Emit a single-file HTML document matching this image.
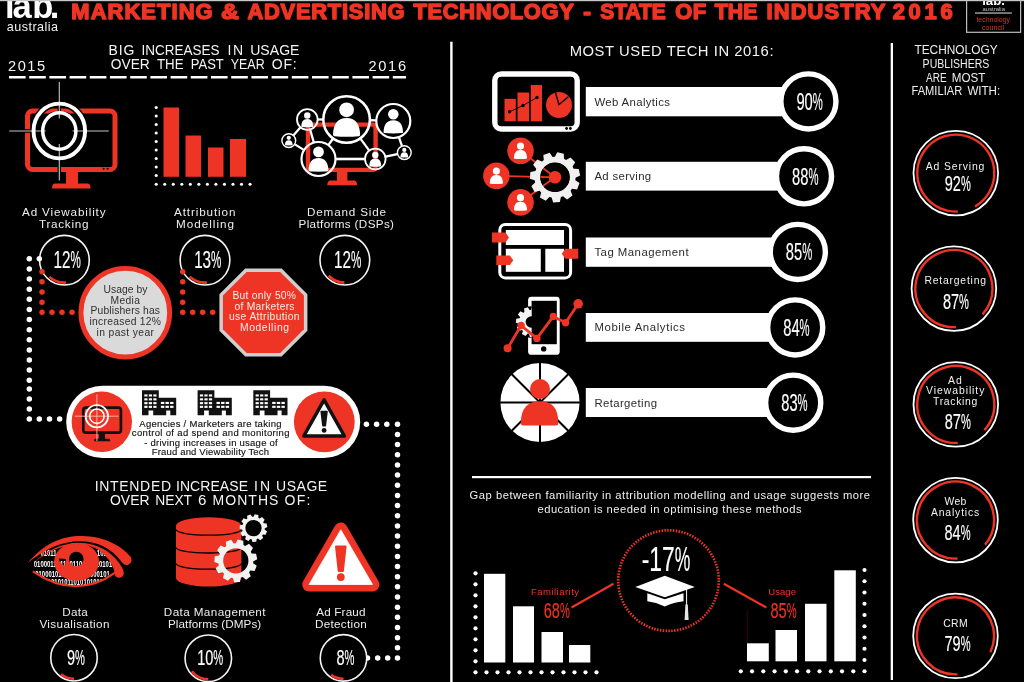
<!DOCTYPE html>
<html lang="en">
<head>
<meta charset="utf-8">
<title>Marketing &amp; Advertising Technology - State of the Industry 2016</title>
<style>
html,body{margin:0;padding:0;background:#000;}
body{width:1024px;height:682px;overflow:hidden;}
svg{display:block;font-family:"Liberation Sans", sans-serif;}
text{white-space:pre;}
</style>
</head>
<body>
<svg width="1024" height="682" viewBox="0 0 1024 682">
<rect width="1024" height="682" fill="#000"/>
<!-- header -->
<text x="4.9 12.6 32.2 49.8" y="18.1" font-size="34.5" font-weight="700" fill="#fff">iab.</text>
<text x="6.80" y="31.00" font-size="12.6" fill="#f2f2f2" textLength="51.20" lengthAdjust="spacing">australia</text>
<text y="19.45" font-size="21.9" fill="#ee3424" font-weight="700" stroke="#ee3424" stroke-width="1.5" stroke-linejoin="round" ><tspan x="71.30" textLength="141.30" lengthAdjust="spacing">MARKETING</tspan> <tspan x="221.00" textLength="17.80" lengthAdjust="spacingAndGlyphs">&amp;</tspan> <tspan x="247.40" textLength="157.20" lengthAdjust="spacing">ADVERTISING</tspan> <tspan x="413.60" textLength="159.80" lengthAdjust="spacing">TECHNOLOGY</tspan> <tspan x="583.30" textLength="7.70" lengthAdjust="spacingAndGlyphs">-</tspan> <tspan x="600.20" textLength="65.60" lengthAdjust="spacingAndGlyphs">STATE</tspan> <tspan x="675.20" textLength="31.00" lengthAdjust="spacing">OF</tspan> <tspan x="714.80" textLength="42.60" lengthAdjust="spacingAndGlyphs">THE</tspan> <tspan x="766.50" textLength="118.50" lengthAdjust="spacing">INDUSTRY</tspan> <tspan x="892.70" textLength="59.90" lengthAdjust="spacing">2016</tspan></text>
<rect x="966.6" y="-2" width="54" height="34.3" fill="#000" stroke="#bdbdbd" stroke-width="1.2"/>
<g transform="translate(982.2,4.9) scale(0.5)"><text x="0" y="0" font-size="25" font-weight="700" fill="#fff" textLength="45.6" lengthAdjust="spacingAndGlyphs">iab.</text></g>
<g transform="translate(982.6,10.7) scale(0.5)"><text x="0" y="0" font-size="11.6" fill="#c4c4c4" textLength="44.6" lengthAdjust="spacing">australia</text></g>
<rect x="975.00" y="12.30" width="36.80" height="1.50" fill="#9a9a9a" />
<g transform="translate(976.4,22.2) scale(0.5)"><text x="0" y="0" font-size="15.4" fill="#d2342a" textLength="67.4" lengthAdjust="spacingAndGlyphs">technology</text></g>
<g transform="translate(982,30.3) scale(0.5)"><text x="0" y="0" font-size="15.4" fill="#d2342a" textLength="44.4" lengthAdjust="spacingAndGlyphs">council</text></g>
<rect x="0.00" y="0.00" width="1024.00" height="1.20" fill="#c8c8c8" />
<rect x="450.20" y="41.70" width="2.40" height="640.30" fill="#fff" />
<rect x="890.70" y="43.00" width="2.30" height="637.00" fill="#fff" />
<rect x="472.00" y="476.00" width="399.00" height="2.20" fill="#fff" />
<!-- left top -->
<text y="54.70" font-size="14.0" fill="#f4f4f4" ><tspan x="108.60" textLength="25.80" lengthAdjust="spacing">BIG</tspan> <tspan x="141.40" textLength="78.00" lengthAdjust="spacingAndGlyphs">INCREASES</tspan> <tspan x="227.60" textLength="15.40" lengthAdjust="spacing">IN</tspan> <tspan x="250.20" textLength="49.20" lengthAdjust="spacing">USAGE</tspan></text>
<text y="69.00" font-size="14.0" fill="#f4f4f4" ><tspan x="110.80" textLength="39.00" lengthAdjust="spacingAndGlyphs">OVER</tspan> <tspan x="157.00" textLength="26.60" lengthAdjust="spacingAndGlyphs">THE</tspan> <tspan x="190.80" textLength="32.80" lengthAdjust="spacingAndGlyphs">PAST</tspan> <tspan x="230.80" textLength="33.80" lengthAdjust="spacingAndGlyphs">YEAR</tspan> <tspan x="271.80" textLength="24.80" lengthAdjust="spacing">OF:</tspan></text>
<text x="8.00" y="71.00" font-size="14.6" fill="#f4f4f4" textLength="37.00" lengthAdjust="spacing">2015</text>
<text x="368.50" y="71.00" font-size="14.6" fill="#f4f4f4" textLength="37.50" lengthAdjust="spacing">2016</text>
<line x1="9" y1="77.3" x2="406" y2="77.3" stroke="#fff" stroke-width="2.6" stroke-dasharray="16.6 3.6"/>
<rect x="27.5" y="111" width="87.5" height="58.5" rx="5" ry="5" fill="none" stroke="#ee3424" stroke-width="5"/>
<path d="M66,172 L78,172 L78,183.5 L88,183.5 Q90.5,184 90.5,188.5 L52,188.5 Q52,184 54.5,183.5 L66,183.5Z" fill="#ee3424"/>
<circle cx="103.60" cy="168.80" r="1.00" fill="#000" />
<circle cx="107.60" cy="168.80" r="1.00" fill="#000" />
<line x1="9.00" y1="131.00" x2="109.00" y2="131.00" stroke="#000" stroke-width="3.4" />
<line x1="59.30" y1="82.00" x2="59.30" y2="181.00" stroke="#000" stroke-width="3.4" />
<ellipse cx="59.3" cy="131.0" rx="25.8" ry="27.4" fill="none" stroke="#000" stroke-width="6.6"/>
<ellipse cx="59.3" cy="131.0" rx="16.6" ry="18.2" fill="#000" stroke="#000" stroke-width="5.4"/>
<path d="M47,112.6 Q59.3,107.2 71.6,112.6" fill="none" stroke="#ee3424" stroke-width="2.2"/>
<line x1="59.30" y1="108.00" x2="59.30" y2="115.00" stroke="#000" stroke-width="3.2" />
<line x1="9.20" y1="131.00" x2="45.60" y2="131.00" stroke="#c4c4c4" stroke-width="1.1" />
<line x1="72.60" y1="131.00" x2="108.80" y2="131.00" stroke="#c4c4c4" stroke-width="1.1" />
<line x1="59.30" y1="82.00" x2="59.30" y2="118.60" stroke="#c4c4c4" stroke-width="1.1" />
<line x1="59.30" y1="144.00" x2="59.30" y2="180.60" stroke="#c4c4c4" stroke-width="1.1" />
<ellipse cx="59.3" cy="131.0" rx="25.8" ry="27.4" fill="none" stroke="#fff" stroke-width="3.9"/>
<ellipse cx="59.3" cy="131.0" rx="16.6" ry="18.2" fill="none" stroke="#fff" stroke-width="3.5"/>
<rect x="163.50" y="107.50" width="15.50" height="69.30" fill="#ee3424" />
<rect x="185.50" y="135.50" width="15.50" height="41.30" fill="#ee3424" />
<rect x="208.00" y="147.50" width="15.50" height="29.30" fill="#ee3424" />
<rect x="230.00" y="139.00" width="16.00" height="37.80" fill="#ee3424" />
<g fill="#fff"><circle cx="156.20" cy="107.50" r="1.55"/><circle cx="156.20" cy="116.00" r="1.55"/><circle cx="156.20" cy="124.50" r="1.55"/><circle cx="156.20" cy="133.00" r="1.55"/><circle cx="156.20" cy="141.50" r="1.55"/><circle cx="156.20" cy="150.00" r="1.55"/><circle cx="156.20" cy="158.50" r="1.55"/><circle cx="156.20" cy="167.00" r="1.55"/><circle cx="156.20" cy="175.50" r="1.55"/></g>
<g fill="#fff"><circle cx="156.20" cy="184.20" r="1.55"/><circle cx="164.73" cy="184.20" r="1.55"/><circle cx="173.26" cy="184.20" r="1.55"/><circle cx="181.79" cy="184.20" r="1.55"/><circle cx="190.32" cy="184.20" r="1.55"/><circle cx="198.85" cy="184.20" r="1.55"/><circle cx="207.38" cy="184.20" r="1.55"/><circle cx="215.91" cy="184.20" r="1.55"/><circle cx="224.44" cy="184.20" r="1.55"/><circle cx="232.97" cy="184.20" r="1.55"/><circle cx="241.50" cy="184.20" r="1.55"/><circle cx="250.03" cy="184.20" r="1.55"/></g>
<rect x="308" y="124.6" width="67.6" height="45.3" rx="2.5" fill="none" stroke="#ee3424" stroke-width="4.4"/>
<path d="M337,172 L347.4,172 L347.4,180.6 L354.6,180.6 Q357,181.4 357.2,185.2 L327.2,185.2 Q327.4,181.4 329.8,180.6 L337,180.6Z" fill="#ee3424"/>
<line x1="317.90" y1="119.50" x2="323.00" y2="119.50" stroke="#fff" stroke-width="2.3" />
<line x1="293.55" y1="135.19" x2="300.31" y2="127.47" stroke="#fff" stroke-width="2.3" />
<line x1="294.92" y1="144.39" x2="303.79" y2="149.89" stroke="#fff" stroke-width="2.3" />
<line x1="310.19" y1="129.70" x2="313.78" y2="142.36" stroke="#fff" stroke-width="2.3" />
<line x1="332.92" y1="138.73" x2="328.53" y2="144.90" stroke="#fff" stroke-width="2.3" />
<line x1="360.47" y1="138.59" x2="369.07" y2="150.42" stroke="#fff" stroke-width="2.3" />
<line x1="370.19" y1="120.26" x2="376.01" y2="120.44" stroke="#fff" stroke-width="2.3" />
<line x1="398.99" y1="137.34" x2="401.93" y2="145.80" stroke="#fff" stroke-width="2.3" />
<line x1="385.65" y1="156.72" x2="397.27" y2="154.15" stroke="#fff" stroke-width="2.3" />
<line x1="335.80" y1="159.00" x2="364.70" y2="159.00" stroke="#fff" stroke-width="2.6" />
<circle cx="346.60" cy="119.50" r="23.30" fill="none" stroke="#fff" stroke-width="2.6" />
<circle cx="393.30" cy="121.00" r="17.00" fill="none" stroke="#fff" stroke-width="2.2" />
<circle cx="307.30" cy="119.50" r="10.30" fill="none" stroke="#fff" stroke-width="1.8" />
<circle cx="288.80" cy="140.60" r="6.90" fill="none" stroke="#fff" stroke-width="1.4" />
<circle cx="318.50" cy="159.00" r="17.00" fill="none" stroke="#fff" stroke-width="2.2" />
<circle cx="375.30" cy="159.00" r="10.30" fill="none" stroke="#fff" stroke-width="1.8" />
<circle cx="404.30" cy="152.60" r="6.90" fill="none" stroke="#fff" stroke-width="1.4" />
<g fill="#fff"><circle cx="346.60" cy="109.77" r="7.37"/><path d="M333.05,134.46 C333.32,125.11 336.85,118.01 346.60,118.01 C356.35,118.01 359.88,125.11 360.15,134.46 Q360.15,136.14 358.79,136.14 Q346.60,137.26 334.41,136.14 Q333.05,136.14 333.05,134.46Z"/></g>
<g fill="#fff"><circle cx="393.30" cy="114.27" r="5.27"/><path d="M383.62,131.90 C383.82,125.22 386.33,120.15 393.30,120.15 C400.27,120.15 402.78,125.22 402.98,131.90 Q402.98,133.10 402.01,133.10 Q393.30,133.90 384.59,133.10 Q383.62,133.10 383.62,131.90Z"/></g>
<g fill="#fff"><circle cx="307.30" cy="115.52" r="3.23"/><path d="M301.38,126.32 C301.49,122.23 303.03,119.12 307.30,119.12 C311.57,119.12 313.11,122.23 313.23,126.32 Q313.23,127.05 312.63,127.05 Q307.30,127.55 301.97,127.05 Q301.38,127.05 301.38,126.32Z"/></g>
<g fill="#fff"><circle cx="288.80" cy="137.81" r="2.11"/><path d="M284.93,144.86 C285.01,142.19 286.01,140.16 288.80,140.16 C291.59,140.16 292.59,142.19 292.67,144.86 Q292.67,145.34 292.28,145.34 Q288.80,145.66 285.32,145.34 Q284.93,145.34 284.93,144.86Z"/></g>
<g fill="#fff"><circle cx="318.50" cy="151.88" r="5.38"/><path d="M308.62,169.87 C308.82,163.05 311.39,157.88 318.50,157.88 C325.61,157.88 328.18,163.05 328.38,169.87 Q328.38,171.09 327.39,171.09 Q318.50,171.91 309.61,171.09 Q308.62,171.09 308.62,169.87Z"/></g>
<g fill="#fff"><circle cx="375.30" cy="155.03" r="3.23"/><path d="M369.38,165.82 C369.49,161.73 371.03,158.62 375.30,158.62 C379.57,158.62 381.11,161.73 381.23,165.82 Q381.23,166.55 380.63,166.55 Q375.30,167.05 369.97,166.55 Q369.38,166.55 369.38,165.82Z"/></g>
<g fill="#fff"><circle cx="404.30" cy="149.91" r="2.11"/><path d="M400.43,156.96 C400.51,154.29 401.51,152.26 404.30,152.26 C407.09,152.26 408.09,154.29 408.17,156.96 Q408.17,157.44 407.78,157.44 Q404.30,157.76 400.82,157.44 Q400.43,157.44 400.43,156.96Z"/></g>
<text x="22.00" y="215.60" font-size="11.7" fill="#ededed" textLength="83.50" lengthAdjust="spacing">Ad Viewability</text>
<text x="39.00" y="228.00" font-size="11.7" fill="#ededed" textLength="49.50" lengthAdjust="spacing">Tracking</text>
<text x="174.00" y="215.60" font-size="11.7" fill="#ededed" textLength="61.50" lengthAdjust="spacing">Attribution</text>
<text x="176.00" y="228.00" font-size="11.7" fill="#ededed" textLength="58.00" lengthAdjust="spacing">Modelling</text>
<text x="307.00" y="215.60" font-size="11.7" fill="#ededed" textLength="79.00" lengthAdjust="spacing">Demand Side</text>
<text x="298.50" y="228.20" font-size="11.7" fill="#ededed" textLength="95.50" lengthAdjust="spacing">Platforms (DSPs)</text>
<circle cx="64.40" cy="260.20" r="24.85" fill="#000" stroke="#f4f4f4" stroke-width="1.6" />
<path d="M65.96,282.55 A22.4,22.4 0 0,1 49.41,276.85" fill="none" stroke="#ee3424" stroke-width="2.6" stroke-linecap="butt"/>
<text x="53.57" y="268.20" font-size="23.74" fill="#fff" stroke="#fff" stroke-width="0.18" ><tspan textLength="16.91" lengthAdjust="spacingAndGlyphs">12</tspan><tspan textLength="10.35" lengthAdjust="spacingAndGlyphs">%</tspan></text>
<circle cx="205.00" cy="260.20" r="24.85" fill="#000" stroke="#f4f4f4" stroke-width="1.6" />
<path d="M206.95,282.51 A22.4,22.4 0 0,1 189.72,276.58" fill="none" stroke="#ee3424" stroke-width="2.6" stroke-linecap="butt"/>
<text x="194.17" y="268.20" font-size="23.74" fill="#fff" stroke="#fff" stroke-width="0.18" ><tspan textLength="16.91" lengthAdjust="spacingAndGlyphs">13</tspan><tspan textLength="10.35" lengthAdjust="spacingAndGlyphs">%</tspan></text>
<circle cx="344.85" cy="260.20" r="24.85" fill="#000" stroke="#f4f4f4" stroke-width="1.6" />
<path d="M344.46,282.60 A22.4,22.4 0 0,1 328.74,275.76" fill="none" stroke="#ee3424" stroke-width="2.6" stroke-linecap="butt"/>
<text x="334.02" y="268.20" font-size="23.74" fill="#fff" stroke="#fff" stroke-width="0.18" ><tspan textLength="16.91" lengthAdjust="spacingAndGlyphs">12</tspan><tspan textLength="10.35" lengthAdjust="spacingAndGlyphs">%</tspan></text>
<g fill="#fff"><circle cx="29.30" cy="258.80" r="2.75"/><circle cx="29.30" cy="268.92" r="2.75"/><circle cx="29.30" cy="279.04" r="2.75"/><circle cx="29.30" cy="289.16" r="2.75"/><circle cx="29.30" cy="299.28" r="2.75"/><circle cx="29.30" cy="309.40" r="2.75"/><circle cx="29.30" cy="319.52" r="2.75"/><circle cx="29.30" cy="329.64" r="2.75"/><circle cx="29.30" cy="339.76" r="2.75"/><circle cx="29.30" cy="349.88" r="2.75"/><circle cx="29.30" cy="360.00" r="2.75"/><circle cx="29.30" cy="370.12" r="2.75"/><circle cx="29.30" cy="380.24" r="2.75"/><circle cx="29.30" cy="388.90" r="2.75"/><circle cx="29.30" cy="398.90" r="2.75"/><circle cx="29.30" cy="408.90" r="2.75"/><circle cx="29.30" cy="418.90" r="2.75"/><circle cx="39.30" cy="258.80" r="2.75"/><circle cx="39.30" cy="418.90" r="2.75"/><circle cx="49.50" cy="418.90" r="2.75"/><circle cx="59.60" cy="418.90" r="2.75"/></g>
<g fill="#ee3424"><circle cx="42.00" cy="271.70" r="2.75"/><circle cx="42.00" cy="281.85" r="2.75"/><circle cx="42.00" cy="292.00" r="2.75"/><circle cx="42.00" cy="302.15" r="2.75"/><circle cx="42.00" cy="312.30" r="2.75"/><circle cx="52.00" cy="312.30" r="2.75"/><circle cx="62.00" cy="312.30" r="2.75"/><circle cx="72.00" cy="312.30" r="2.75"/></g>
<g fill="#ee3424"><circle cx="182.70" cy="271.70" r="2.75"/><circle cx="182.70" cy="281.85" r="2.75"/><circle cx="182.70" cy="292.00" r="2.75"/><circle cx="182.70" cy="302.15" r="2.75"/><circle cx="182.70" cy="312.30" r="2.75"/><circle cx="192.70" cy="312.30" r="2.75"/><circle cx="202.70" cy="312.30" r="2.75"/><circle cx="212.70" cy="312.30" r="2.75"/></g>
<circle cx="125.30" cy="312.70" r="44.35" fill="#dadada" stroke="#ee3424" stroke-width="4.9" />
<text x="103.50" y="292.90" font-size="10.3" fill="#303030" textLength="44.00" lengthAdjust="spacing">Usage by</text>
<text x="110.50" y="303.50" font-size="10.3" fill="#303030" textLength="29.50" lengthAdjust="spacing">Media</text>
<text x="90.50" y="314.30" font-size="10.3" fill="#303030" textLength="69.50" lengthAdjust="spacing">Publishers has</text>
<text x="89.50" y="324.90" font-size="10.3" fill="#303030" textLength="71.50" lengthAdjust="spacing">increased 12%</text>
<text x="96.50" y="335.50" font-size="10.3" fill="#303030" textLength="57.50" lengthAdjust="spacing">in past year</text>
<polygon points="245.17,268.40 281.63,268.40 307.40,294.17 307.40,330.63 281.63,356.40 245.17,356.40 219.40,330.63 219.40,294.17" fill="#cfcfcf"/>
<polygon points="246.62,271.90 280.18,271.90 303.90,295.62 303.90,329.18 280.18,352.90 246.62,352.90 222.90,329.18 222.90,295.62" fill="#ee3424"/>
<text x="232.50" y="298.80" font-size="10.3" fill="#fdeeeb" textLength="63.50" lengthAdjust="spacing">But only 50%</text>
<text x="234.50" y="309.50" font-size="10.3" fill="#fdeeeb" textLength="60.00" lengthAdjust="spacing">of Marketers</text>
<text x="229.00" y="320.20" font-size="10.3" fill="#fdeeeb" textLength="70.50" lengthAdjust="spacing">use Attribution</text>
<text x="240.00" y="330.80" font-size="10.3" fill="#fdeeeb" textLength="49.00" lengthAdjust="spacing">Modelling</text>
<!-- pill -->
<rect x="66.2" y="385.8" width="294" height="72.3" rx="36.15" fill="#fff"/>
<circle cx="101.80" cy="421.80" r="30.20" fill="#ee3424" />
<circle cx="324.30" cy="421.80" r="30.40" fill="#ee3424" />
<rect x="83.3" y="407.6" width="37.6" height="25.0" rx="2.6" fill="none" stroke="#111" stroke-width="2.7"/>
<path d="M98.8,433.6 L105,433.6 L105,438.7 L109.8,438.7 L110.3,441.3 L94,441.3 L94.5,438.7 L98.8,438.7Z" fill="#111"/>
<line x1="74.80" y1="416.20" x2="118.60" y2="416.20" stroke="#f6bdb6" stroke-width="0.9" />
<line x1="96.90" y1="394.40" x2="96.90" y2="441.00" stroke="#f6bdb6" stroke-width="0.9" />
<circle cx="96.90" cy="416.20" r="11.20" fill="none" stroke="#fff" stroke-width="1.7" />
<circle cx="96.90" cy="416.20" r="7.20" fill="none" stroke="#fff" stroke-width="1.6" />
<path d="M324.1,399.9 L344.4,436 L303.8,436Z" fill="#fff" stroke="#111" stroke-width="3.5" stroke-linejoin="round"/>
<path d="M320.4,411.6 Q320.3,410.8 321.2,410.8 L327,410.8 Q327.9,410.8 327.8,411.6 L326,426.2 Q324.1,427 322.2,426.2Z" fill="#111"/>
<circle cx="324.10" cy="430.40" r="2.40" fill="#111" />
<path d="M142.0,390.2 h16.8 v7.5 h17.4 v17.6 h-5.9 v-4.8 h-4.1 v4.8 h-13 v-4.8 h-4.7 v4.8 h-6.5Z" fill="#111"/>
<g fill="#fff"><rect x="144.30" y="394.40" width="3.2" height="2.1"/><rect x="148.80" y="394.40" width="3.2" height="2.1"/><rect x="153.30" y="394.40" width="3.2" height="2.1"/><rect x="144.30" y="398.30" width="3.2" height="2.1"/><rect x="148.80" y="398.30" width="3.2" height="2.1"/><rect x="153.30" y="398.30" width="3.2" height="2.1"/><rect x="144.30" y="402.10" width="3.2" height="2.1"/><rect x="148.80" y="402.10" width="3.2" height="2.1"/><rect x="153.30" y="402.10" width="3.2" height="2.1"/><rect x="144.30" y="405.80" width="3.2" height="2.1"/><rect x="148.80" y="405.80" width="3.2" height="2.1"/><rect x="153.30" y="405.80" width="3.2" height="2.1"/><rect x="160.90" y="401.90" width="3.4" height="2.1"/><rect x="165.50" y="401.90" width="3.4" height="2.1"/><rect x="170.10" y="401.90" width="3.4" height="2.1"/><rect x="160.90" y="405.80" width="3.4" height="2.1"/><rect x="165.50" y="405.80" width="3.4" height="2.1"/><rect x="170.10" y="405.80" width="3.4" height="2.1"/></g>
<path d="M197.6,390.2 h16.8 v7.5 h17.4 v17.6 h-5.9 v-4.8 h-4.1 v4.8 h-13 v-4.8 h-4.7 v4.8 h-6.5Z" fill="#111"/>
<g fill="#fff"><rect x="199.90" y="394.40" width="3.2" height="2.1"/><rect x="204.40" y="394.40" width="3.2" height="2.1"/><rect x="208.90" y="394.40" width="3.2" height="2.1"/><rect x="199.90" y="398.30" width="3.2" height="2.1"/><rect x="204.40" y="398.30" width="3.2" height="2.1"/><rect x="208.90" y="398.30" width="3.2" height="2.1"/><rect x="199.90" y="402.10" width="3.2" height="2.1"/><rect x="204.40" y="402.10" width="3.2" height="2.1"/><rect x="208.90" y="402.10" width="3.2" height="2.1"/><rect x="199.90" y="405.80" width="3.2" height="2.1"/><rect x="204.40" y="405.80" width="3.2" height="2.1"/><rect x="208.90" y="405.80" width="3.2" height="2.1"/><rect x="216.50" y="401.90" width="3.4" height="2.1"/><rect x="221.10" y="401.90" width="3.4" height="2.1"/><rect x="225.70" y="401.90" width="3.4" height="2.1"/><rect x="216.50" y="405.80" width="3.4" height="2.1"/><rect x="221.10" y="405.80" width="3.4" height="2.1"/><rect x="225.70" y="405.80" width="3.4" height="2.1"/></g>
<path d="M253.3,390.2 h16.8 v7.5 h17.4 v17.6 h-5.9 v-4.8 h-4.1 v4.8 h-13 v-4.8 h-4.7 v4.8 h-6.5Z" fill="#111"/>
<g fill="#fff"><rect x="255.60" y="394.40" width="3.2" height="2.1"/><rect x="260.10" y="394.40" width="3.2" height="2.1"/><rect x="264.60" y="394.40" width="3.2" height="2.1"/><rect x="255.60" y="398.30" width="3.2" height="2.1"/><rect x="260.10" y="398.30" width="3.2" height="2.1"/><rect x="264.60" y="398.30" width="3.2" height="2.1"/><rect x="255.60" y="402.10" width="3.2" height="2.1"/><rect x="260.10" y="402.10" width="3.2" height="2.1"/><rect x="264.60" y="402.10" width="3.2" height="2.1"/><rect x="255.60" y="405.80" width="3.2" height="2.1"/><rect x="260.10" y="405.80" width="3.2" height="2.1"/><rect x="264.60" y="405.80" width="3.2" height="2.1"/><rect x="272.20" y="401.90" width="3.4" height="2.1"/><rect x="276.80" y="401.90" width="3.4" height="2.1"/><rect x="281.40" y="401.90" width="3.4" height="2.1"/><rect x="272.20" y="405.80" width="3.4" height="2.1"/><rect x="276.80" y="405.80" width="3.4" height="2.1"/><rect x="281.40" y="405.80" width="3.4" height="2.1"/></g>
<text x="139.30" y="426.90" font-size="9.5" fill="#141414" textLength="142.20" lengthAdjust="spacing" stroke="#141414" stroke-width="0.15">Agencies / Marketers are taking</text>
<text x="131.80" y="436.20" font-size="9.5" fill="#141414" textLength="157.70" lengthAdjust="spacing" stroke="#141414" stroke-width="0.15">control of ad spend and monitoring</text>
<text x="144.30" y="445.50" font-size="9.5" fill="#141414" textLength="133.40" lengthAdjust="spacing" stroke="#141414" stroke-width="0.15">- driving increases in usage of</text>
<text x="151.80" y="454.60" font-size="9.5" fill="#141414" textLength="117.20" lengthAdjust="spacing" stroke="#141414" stroke-width="0.15">Fraud and Viewability Tech</text>
<g fill="#fff"><circle cx="366.40" cy="424.30" r="2.75"/><circle cx="376.60" cy="424.30" r="2.75"/><circle cx="386.80" cy="424.30" r="2.75"/><circle cx="397.50" cy="424.30" r="2.75"/><circle cx="397.50" cy="434.46" r="2.75"/><circle cx="397.50" cy="444.62" r="2.75"/><circle cx="397.50" cy="454.78" r="2.75"/><circle cx="397.50" cy="464.94" r="2.75"/><circle cx="397.50" cy="475.10" r="2.75"/><circle cx="397.50" cy="485.26" r="2.75"/><circle cx="397.50" cy="495.42" r="2.75"/><circle cx="397.50" cy="505.58" r="2.75"/><circle cx="397.50" cy="515.74" r="2.75"/><circle cx="397.50" cy="525.90" r="2.75"/><circle cx="397.50" cy="536.06" r="2.75"/><circle cx="397.50" cy="546.22" r="2.75"/><circle cx="397.50" cy="556.38" r="2.75"/><circle cx="397.50" cy="566.54" r="2.75"/><circle cx="397.50" cy="576.70" r="2.75"/><circle cx="397.50" cy="586.86" r="2.75"/><circle cx="397.50" cy="597.02" r="2.75"/><circle cx="397.50" cy="607.18" r="2.75"/><circle cx="397.50" cy="617.34" r="2.75"/><circle cx="397.50" cy="627.50" r="2.75"/><circle cx="397.50" cy="637.66" r="2.75"/><circle cx="397.50" cy="647.82" r="2.75"/><circle cx="397.50" cy="657.98" r="2.75"/><circle cx="367.50" cy="658.00" r="2.75"/><circle cx="377.70" cy="658.00" r="2.75"/><circle cx="387.70" cy="658.00" r="2.75"/></g>
<!-- left bottom -->
<text y="490.80" font-size="14.0" fill="#f4f4f4" ><tspan x="94.80" textLength="76.20" lengthAdjust="spacing">INTENDED</tspan> <tspan x="176.00" textLength="72.00" lengthAdjust="spacing">INCREASE</tspan> <tspan x="254.00" textLength="16.00" lengthAdjust="spacing">IN</tspan> <tspan x="276.00" textLength="51.20" lengthAdjust="spacing">USAGE</tspan></text>
<text y="505.20" font-size="14.0" fill="#f4f4f4" ><tspan x="110.00" textLength="39.60" lengthAdjust="spacingAndGlyphs">OVER</tspan> <tspan x="155.20" textLength="36.60" lengthAdjust="spacingAndGlyphs">NEXT</tspan> <tspan x="198.00" textLength="8.40" lengthAdjust="spacingAndGlyphs">6</tspan> <tspan x="212.60" textLength="65.80" lengthAdjust="spacing">MONTHS</tspan> <tspan x="284.60" textLength="25.70" lengthAdjust="spacing">OF:</tspan></text>
<g>
<clipPath id="lens"><path d="M27.7,563.5 C45,547 62,540.5 80,540.5 C99,540.5 112,554 117.5,568 C104,580.5 90,586.6 76,586.6 C60,586.6 45,580 31,569.5Z"/></clipPath>
<g clip-path="url(#lens)" font-size="8.8" font-weight="700" fill="#fff">
<text x="40.5" y="556.4" textLength="16" lengthAdjust="spacingAndGlyphs">01011</text>
<text x="96.8" y="556.4" textLength="10" lengthAdjust="spacingAndGlyphs">101</text>
<text x="33.8" y="566.6" textLength="78.4" lengthAdjust="spacingAndGlyphs">010001101100110101010101</text>
<text x="35.3" y="577.0" textLength="74.4" lengthAdjust="spacingAndGlyphs">01000101011010111000101</text>
<text x="44.6" y="585.0" textLength="61.6" lengthAdjust="spacingAndGlyphs">0101010110101010101</text>
</g>
<path d="M54.1,561.8 a22.5,19 0 1,0 45,0 a22.5,19 0 1,0 -45,0Z M69,559 a7.3,7.3 0 1,1 14.6,0 a7.3,7.3 0 1,1 -14.6,0Z M58.8,558.4 L66,559 L65.4,565.6 Q59.6,564.4 58.8,558.4Z" fill="#ee3424" fill-rule="evenodd"/>
<path d="M32.8,571.3 C47,581 61,586.2 76,586.2 C90,586.2 103,581.5 115,572.6" fill="none" stroke="#ee3424" stroke-width="2.1"/>
<path d="M33.5,562.8 C48,549 63,543.1 80,543.1 C97,543.1 110,551 119.2,563 C122.7,568 124.2,571.5 123.7,574 C123.2,577 120.2,578.5 117.6,577.6 C115.2,576.7 114.6,574.5 114.4,572 C113.5,565 106,553.5 95,548 C88,545 84,544.5 80,544.5 C63,544.5 49,550.5 33.5,562.8Z" fill="#ee3424"/>
<path d="M27.6,563.2 C44,543 62,535.7 82,535.9 C104,536.1 122,546 130.4,556.6 C132.7,560 131.2,564.4 127.4,564.9 C124.6,565.2 122.9,563.6 121,561.2 C113,550.2 100,541.4 81,541.2 C62,541 44,549 27.6,563.2Z" fill="#ee3424"/>
</g>
<path d="M176.0,525.9 A32.7,8.6 0 0,1 241.4,525.9 L241.4,578.0 A32.7,8.6 0 0,1 176.0,578.0Z" fill="#ee3424"/>
<path d="M176.0,529.6 A32.7,5.6 0 0,0 241.4,529.6" fill="none" stroke="#000" stroke-width="1.3"/>
<path d="M176.0,547.4 A32.7,5.6 0 0,0 241.4,547.4" fill="none" stroke="#000" stroke-width="1.3"/>
<path d="M176.0,563.6 A32.7,5.6 0 0,0 241.4,563.6" fill="none" stroke="#000" stroke-width="1.3"/>
<path d="M264.72,529.66 L267.03,531.30 L265.69,534.77 L262.88,534.45 L262.10,535.48 L263.15,538.10 L260.15,540.31 L257.96,538.51 L256.74,538.95 L256.21,541.73 L252.50,541.96 L251.62,539.27 L250.36,538.98 L248.41,541.03 L245.16,539.22 L245.88,536.48 L244.97,535.56 L242.22,536.23 L240.47,532.95 L242.56,531.03 L242.29,529.77 L239.62,528.84 L239.92,525.13 L242.71,524.65 L243.17,523.44 L241.42,521.22 L243.68,518.26 L246.29,519.36 L247.33,518.60 L247.06,515.78 L250.56,514.51 L252.16,516.85 L253.45,516.77 L254.74,514.26 L258.37,515.08 L258.45,517.91 L259.58,518.54 L262.03,517.12 L264.64,519.78 L263.17,522.20 L263.78,523.34 L266.61,523.48 L267.37,527.12 L264.83,528.37Z M245.34,528.10 a8.1593,8.1593 0 1,0 16.3186,0 a8.1593,8.1593 0 1,0 -16.3186,0Z" fill="#f2f2f2" fill-rule="evenodd"/>
<path d="M253.16,563.21 L256.72,565.75 L254.66,571.12 L250.31,570.62 L249.10,572.21 L250.73,576.28 L246.09,579.68 L242.70,576.91 L240.82,577.59 L239.99,581.89 L234.25,582.24 L232.89,578.08 L230.94,577.64 L227.92,580.81 L222.90,578.00 L224.01,573.77 L222.61,572.34 L218.36,573.37 L215.65,568.29 L218.87,565.34 L218.47,563.38 L214.33,561.95 L214.80,556.21 L219.11,555.46 L219.83,553.60 L217.12,550.16 L220.61,545.58 L224.64,547.29 L226.26,546.10 L225.84,541.75 L231.25,539.79 L233.72,543.40 L235.72,543.28 L237.72,539.39 L243.33,540.66 L243.46,545.04 L245.20,546.01 L248.99,543.82 L253.02,547.93 L250.76,551.68 L251.70,553.45 L256.08,553.65 L257.25,559.29 L253.32,561.22Z M223.18,560.80 a12.6205,12.6205 0 1,0 25.241,0 a12.6205,12.6205 0 1,0 -25.241,0Z" fill="#f2f2f2" fill-rule="evenodd"/>
<path d="M340.8,529.4 L372.6,584.6 L309,584.6Z" fill="#ee3424" stroke="#ee3424" stroke-width="13.6" stroke-linejoin="round"/>
<path d="M340.8,529.8 L372.5,584.5 L309.1,584.5Z" fill="#fff" stroke="#fff" stroke-width="0.8" stroke-linejoin="round"/>
<path d="M335,546.6 Q335,545.4 336.2,545.4 L345.4,545.4 Q346.7,545.4 346.6,546.6 L343.9,571 Q343.8,572 342.8,572 L338.8,572 Q337.8,572 337.7,571Z" fill="#ee3424"/>
<circle cx="340.80" cy="577.10" r="3.90" fill="#ee3424" />
<text x="62.30" y="615.70" font-size="11.7" fill="#ededed" textLength="25.40" lengthAdjust="spacing">Data</text>
<text x="39.40" y="627.80" font-size="11.7" fill="#ededed" textLength="70.00" lengthAdjust="spacing">Visualisation</text>
<text x="163.80" y="615.80" font-size="11.7" fill="#ededed" textLength="101.70" lengthAdjust="spacing">Data Management</text>
<text x="168.00" y="628.20" font-size="11.7" fill="#ededed" textLength="93.20" lengthAdjust="spacing">Platforms (DMPs)</text>
<text x="316.30" y="615.80" font-size="11.7" fill="#ededed" textLength="49.20" lengthAdjust="spacing">Ad Fraud</text>
<text x="315.00" y="628.20" font-size="11.7" fill="#ededed" textLength="51.70" lengthAdjust="spacing">Detection</text>
<circle cx="74.00" cy="657.70" r="23.25" fill="#000" stroke="#f4f4f4" stroke-width="1.6" />
<path d="M74.00,678.70 A21.0,21.0 0 0,1 61.07,674.25" fill="none" stroke="#ee3424" stroke-width="2.6" stroke-linecap="butt"/>
<text x="66.90" y="665.30" font-size="22.77" fill="#fff" stroke="#fff" stroke-width="0.18" ><tspan textLength="8.10" lengthAdjust="spacingAndGlyphs">9</tspan><tspan textLength="9.91" lengthAdjust="spacingAndGlyphs">%</tspan></text>
<circle cx="208.30" cy="658.30" r="23.25" fill="#000" stroke="#f4f4f4" stroke-width="1.6" />
<path d="M208.30,679.30 A21.0,21.0 0 0,1 191.75,671.23" fill="none" stroke="#ee3424" stroke-width="2.6" stroke-linecap="butt"/>
<text x="197.15" y="665.30" font-size="22.77" fill="#fff" stroke="#fff" stroke-width="0.18" ><tspan textLength="16.20" lengthAdjust="spacingAndGlyphs">10</tspan><tspan textLength="9.91" lengthAdjust="spacingAndGlyphs">%</tspan></text>
<circle cx="343.50" cy="657.90" r="23.25" fill="#000" stroke="#f4f4f4" stroke-width="1.6" />
<path d="M343.50,678.90 A21.0,21.0 0 0,1 331.16,674.89" fill="none" stroke="#ee3424" stroke-width="2.6" stroke-linecap="butt"/>
<text x="336.40" y="665.30" font-size="22.77" fill="#fff" stroke="#fff" stroke-width="0.18" ><tspan textLength="8.10" lengthAdjust="spacingAndGlyphs">8</tspan><tspan textLength="9.91" lengthAdjust="spacingAndGlyphs">%</tspan></text>
<!-- middle -->
<text x="569.70" y="56.40" font-size="14.8" fill="#f4f4f4" textLength="203.80" lengthAdjust="spacing">MOST USED TECH IN 2016:</text>
<rect x="585.80" y="87.00" width="222.60" height="29.30" fill="#fff" />
<circle cx="808.40" cy="101.40" r="27.55" fill="#000" stroke="#fff" stroke-width="5.4" />
<text x="594.40" y="105.60" font-size="11.4" fill="#2b2b2b" textLength="75.60" lengthAdjust="spacing">Web Analytics</text>
<text x="796.40" y="109.80" font-size="23.18" fill="#fff" stroke="#fff" stroke-width="0.18" ><tspan textLength="16.38" lengthAdjust="spacingAndGlyphs">90</tspan><tspan textLength="10.02" lengthAdjust="spacingAndGlyphs">%</tspan></text>
<rect x="585.80" y="161.80" width="218.20" height="28.80" fill="#fff" />
<circle cx="804.00" cy="176.30" r="27.55" fill="#000" stroke="#fff" stroke-width="5.4" />
<text x="594.40" y="180.20" font-size="11.4" fill="#2b2b2b" textLength="56.80" lengthAdjust="spacing">Ad serving</text>
<text x="792.00" y="184.70" font-size="23.18" fill="#fff" stroke="#fff" stroke-width="0.18" ><tspan textLength="16.38" lengthAdjust="spacingAndGlyphs">88</tspan><tspan textLength="10.02" lengthAdjust="spacingAndGlyphs">%</tspan></text>
<rect x="585.80" y="237.50" width="212.00" height="29.30" fill="#fff" />
<circle cx="797.80" cy="251.90" r="27.55" fill="#000" stroke="#fff" stroke-width="5.4" />
<text x="594.40" y="256.30" font-size="11.4" fill="#2b2b2b" textLength="94.20" lengthAdjust="spacing">Tag Management</text>
<text x="785.80" y="260.30" font-size="23.18" fill="#fff" stroke="#fff" stroke-width="0.18" ><tspan textLength="16.38" lengthAdjust="spacingAndGlyphs">85</tspan><tspan textLength="10.02" lengthAdjust="spacingAndGlyphs">%</tspan></text>
<rect x="585.80" y="313.00" width="209.40" height="28.80" fill="#fff" />
<circle cx="795.20" cy="327.40" r="27.55" fill="#000" stroke="#fff" stroke-width="5.4" />
<text x="594.40" y="331.30" font-size="11.4" fill="#2b2b2b" textLength="90.60" lengthAdjust="spacing">Mobile Analytics</text>
<text x="783.20" y="335.80" font-size="23.18" fill="#fff" stroke="#fff" stroke-width="0.18" ><tspan textLength="16.38" lengthAdjust="spacingAndGlyphs">84</tspan><tspan textLength="10.02" lengthAdjust="spacingAndGlyphs">%</tspan></text>
<rect x="585.80" y="388.00" width="207.40" height="29.00" fill="#fff" />
<circle cx="793.20" cy="402.70" r="27.55" fill="#000" stroke="#fff" stroke-width="5.4" />
<text x="594.40" y="406.80" font-size="11.4" fill="#2b2b2b" textLength="62.60" lengthAdjust="spacing">Retargeting</text>
<text x="781.20" y="411.10" font-size="23.18" fill="#fff" stroke="#fff" stroke-width="0.18" ><tspan textLength="16.38" lengthAdjust="spacingAndGlyphs">83</tspan><tspan textLength="10.02" lengthAdjust="spacingAndGlyphs">%</tspan></text>
<rect x="494.8" y="74" width="82.4" height="55" rx="6.5" fill="#000" stroke="#fff" stroke-width="5.4"/>
<circle cx="566.60" cy="128.50" r="1.40" fill="#000" />
<circle cx="570.40" cy="128.50" r="1.40" fill="#000" />
<rect x="504.50" y="98.80" width="11.30" height="22.50" fill="#ee3424" />
<rect x="517.50" y="92.50" width="11.50" height="28.80" fill="#ee3424" />
<rect x="530.80" y="85.00" width="11.20" height="36.30" fill="#ee3424" />
<polyline points="509.5,111.8 523,105.5 537,97.5" fill="none" stroke="#000" stroke-width="0.9"/>
<g fill="#000"><circle cx="509.50" cy="111.80" r="1.7"/><circle cx="523.00" cy="105.50" r="1.7"/><circle cx="537.00" cy="97.50" r="1.7"/></g>
<circle cx="559.00" cy="105.00" r="13.00" fill="#ee3424" />
<polyline points="555.4,92.4 559,104.6 568.4,96.8" fill="none" stroke="#000" stroke-width="1.4"/>
<line x1="520.50" y1="150.80" x2="555.00" y2="177.30" stroke="#ee3424" stroke-width="1.8" />
<line x1="496.40" y1="175.80" x2="555.00" y2="177.30" stroke="#ee3424" stroke-width="1.8" />
<line x1="520.50" y1="202.40" x2="555.00" y2="177.30" stroke="#ee3424" stroke-width="1.8" />
<path d="M575.34,180.13 L579.52,183.10 L577.11,189.40 L572.01,188.81 L570.59,190.68 L572.49,195.44 L567.06,199.43 L563.08,196.18 L560.88,196.98 L559.91,202.02 L553.18,202.43 L551.59,197.55 L549.31,197.03 L545.77,200.75 L539.88,197.46 L541.18,192.50 L539.54,190.82 L534.56,192.03 L531.38,186.08 L535.16,182.62 L534.69,180.32 L529.84,178.64 L530.38,171.92 L535.44,171.05 L536.28,168.86 L533.10,164.82 L537.20,159.46 L541.92,161.46 L543.81,160.08 L543.32,154.97 L549.67,152.67 L552.56,156.91 L554.90,156.76 L557.25,152.20 L563.83,153.70 L563.97,158.83 L566.02,159.97 L570.46,157.40 L575.19,162.22 L572.54,166.61 L573.64,168.68 L578.77,168.92 L580.14,175.53 L575.53,177.79Z M540.21,177.30 a14.792399999999999,14.792399999999999 0 1,0 29.584799999999998,0 a14.792399999999999,14.792399999999999 0 1,0 -29.584799999999998,0Z" fill="#f0f0f0" fill-rule="evenodd"/>
<clipPath id="gh"><circle cx="555" cy="177.3" r="14.6"/></clipPath>
<g clip-path="url(#gh)">
<circle cx="555.00" cy="177.30" r="15.00" fill="#000" />
<line x1="520.50" y1="150.80" x2="555.00" y2="177.30" stroke="#ee3424" stroke-width="1.8" />
<line x1="496.40" y1="175.80" x2="555.00" y2="177.30" stroke="#ee3424" stroke-width="1.8" />
<line x1="520.50" y1="202.40" x2="555.00" y2="177.30" stroke="#ee3424" stroke-width="1.8" />
</g>
<circle cx="555.00" cy="177.30" r="6.30" fill="#ee3424" />
<circle cx="520.50" cy="150.80" r="13.30" fill="#ee3424" />
<g fill="#fff"><circle cx="520.50" cy="146.07" r="3.57"/><path d="M513.94,158.01 C514.07,153.49 515.78,150.05 520.50,150.05 C525.22,150.05 526.93,153.49 527.06,158.01 Q527.06,158.83 526.40,158.83 Q520.50,159.37 514.60,158.83 Q513.94,158.83 513.94,158.01Z"/></g>
<circle cx="496.40" cy="175.80" r="13.30" fill="#ee3424" />
<g fill="#fff"><circle cx="496.40" cy="171.07" r="3.57"/><path d="M489.84,183.01 C489.97,178.49 491.68,175.05 496.40,175.05 C501.12,175.05 502.83,178.49 502.96,183.01 Q502.96,183.83 502.30,183.83 Q496.40,184.37 490.50,183.83 Q489.84,183.83 489.84,183.01Z"/></g>
<circle cx="520.50" cy="202.40" r="13.30" fill="#ee3424" />
<g fill="#fff"><circle cx="520.50" cy="197.67" r="3.57"/><path d="M513.94,209.61 C514.07,205.09 515.78,201.65 520.50,201.65 C525.22,201.65 526.93,205.09 527.06,209.61 Q527.06,210.43 526.40,210.43 Q520.50,210.97 514.60,210.43 Q513.94,210.43 513.94,209.61Z"/></g>
<rect x="499.8" y="224.5" width="70.8" height="53.4" rx="5.5" fill="#000" stroke="#fff" stroke-width="3"/>
<rect x="505.80" y="230.00" width="58.20" height="15.00" fill="#fff" />
<rect x="505.80" y="248.80" width="35.00" height="23.00" fill="#fff" />
<rect x="545.30" y="248.80" width="18.70" height="23.00" fill="#fff" />
<path d="M492,232.5 H505.5 L509,237.5 L505.5,242.5 H492Z" fill="#ee3424"/>
<path d="M496.3,255.5 H509.8 L513.3,260.3 L509.8,265 H496.3Z" fill="#ee3424"/>
<path d="M578.3,248.8 H565.3 L561.8,253.8 L565.3,258.8 H578.3Z" fill="#ee3424"/>
<rect x="528.1" y="296.8" width="31.6" height="58" rx="3.4" fill="#fff"/>
<rect x="531.60" y="300.80" width="25.20" height="43.40" fill="#000" />
<circle cx="543.70" cy="348.90" r="2.70" fill="#000" />
<clipPath id="gm"><rect x="510" y="300" width="21.6" height="45"/></clipPath>
<g clip-path="url(#gm)">
<circle cx="531.00" cy="322.00" r="15.80" fill="#000" />
<path d="M542.89,323.65 L545.69,325.48 L544.25,329.25 L540.94,328.73 L540.11,329.82 L541.48,332.87 L538.22,335.26 L535.72,333.03 L534.44,333.50 L533.94,336.81 L529.91,337.06 L529.01,333.83 L527.67,333.53 L525.47,336.05 L521.94,334.08 L522.93,330.88 L521.97,329.90 L518.75,330.83 L516.85,327.26 L519.41,325.11 L519.13,323.76 L515.92,322.80 L516.25,318.78 L519.57,318.35 L520.06,317.07 L517.88,314.52 L520.33,311.31 L523.36,312.75 L524.46,311.94 L524.00,308.62 L527.80,307.24 L529.58,310.08 L530.94,310.00 L532.35,306.96 L536.29,307.86 L536.24,311.21 L537.44,311.87 L540.27,310.08 L543.10,312.96 L541.25,315.75 L541.89,316.96 L545.24,316.98 L546.06,320.94 L543.00,322.29Z" fill="#f4f4f4" fill-rule="evenodd"/>
</g>
<circle cx="531.40" cy="322.00" r="5.80" fill="#000" />
<polyline points="507.6,348.3 521.1,325.5 536.9,338.4 553.3,316.4 565.6,322.8 578.2,303.8" fill="none" stroke="#ee3424" stroke-width="2.8" stroke-linejoin="round"/>
<g fill="#ee3424"><circle cx="507.60" cy="348.30" r="4.0"/></g>
<g fill="#ee3424"><circle cx="521.10" cy="325.50" r="3.7"/><circle cx="536.90" cy="338.40" r="3.7"/><circle cx="553.30" cy="316.40" r="3.7"/><circle cx="565.60" cy="322.80" r="3.7"/></g>
<g fill="#ee3424"><circle cx="578.20" cy="303.80" r="4.8"/></g>
<circle cx="540.00" cy="402.50" r="39.60" fill="#fff" />
<line x1="499.00" y1="402.50" x2="581.00" y2="402.50" stroke="#000" stroke-width="2" />
<line x1="511.01" y1="373.51" x2="568.99" y2="431.49" stroke="#000" stroke-width="2" />
<line x1="540.00" y1="361.50" x2="540.00" y2="443.50" stroke="#000" stroke-width="2" />
<line x1="568.99" y1="373.51" x2="511.01" y2="431.49" stroke="#000" stroke-width="2" />
<circle cx="540.00" cy="389.00" r="10.00" fill="#ee3424" />
<path d="M520.8,423 C520.8,408 528,401.3 540,401.3 C552,401.3 558.3,408 558.3,423 Q558.3,425.5 556,425.5 L523,425.5 Q520.8,425.5 520.8,423Z" fill="#ee3424"/>
<text x="469.60" y="499.00" font-size="11.2" fill="#f0f0f0" textLength="400.40" lengthAdjust="spacing">Gap between familiarity in attribution modelling and usage suggests more</text>
<text x="537.50" y="512.70" font-size="11.2" fill="#f0f0f0" textLength="264.00" lengthAdjust="spacing">education is needed in optimising these methods</text>
<rect x="484.00" y="573.80" width="21.30" height="88.70" fill="#fff" />
<rect x="513.00" y="606.30" width="21.00" height="56.20" fill="#fff" />
<rect x="541.50" y="632.00" width="21.50" height="30.50" fill="#fff" />
<rect x="569.00" y="645.00" width="21.30" height="17.50" fill="#fff" />
<g fill="#fff"><circle cx="475.50" cy="573.30" r="2.1"/><circle cx="475.50" cy="584.30" r="2.1"/><circle cx="475.50" cy="595.30" r="2.1"/><circle cx="475.50" cy="606.30" r="2.1"/><circle cx="475.50" cy="617.30" r="2.1"/><circle cx="475.50" cy="628.30" r="2.1"/><circle cx="475.50" cy="639.30" r="2.1"/><circle cx="475.50" cy="650.30" r="2.1"/><circle cx="475.50" cy="661.30" r="2.1"/><circle cx="475.50" cy="672.30" r="2.1"/><circle cx="486.50" cy="672.30" r="2.1"/><circle cx="497.50" cy="672.30" r="2.1"/><circle cx="508.50" cy="672.30" r="2.1"/><circle cx="519.50" cy="672.30" r="2.1"/><circle cx="530.50" cy="672.30" r="2.1"/><circle cx="541.50" cy="672.30" r="2.1"/><circle cx="552.50" cy="672.30" r="2.1"/><circle cx="563.50" cy="672.30" r="2.1"/><circle cx="574.50" cy="672.30" r="2.1"/><circle cx="585.50" cy="672.30" r="2.1"/><circle cx="596.50" cy="672.30" r="2.1"/></g>
<text x="531.00" y="595.30" font-size="9.5" fill="#ee3424" textLength="48.00" lengthAdjust="spacing">Familiarity</text>
<text x="543.82" y="617.80" font-size="22.63" fill="#ee3424" stroke="#ee3424" stroke-width="0.18" ><tspan textLength="16.11" lengthAdjust="spacingAndGlyphs">68</tspan><tspan textLength="9.86" lengthAdjust="spacingAndGlyphs">%</tspan></text>
<line x1="571.50" y1="607.50" x2="613.50" y2="583.80" stroke="#ee3424" stroke-width="2.2" />
<circle cx="668.5" cy="580.6" r="50.3" fill="none" stroke="#ee3424" stroke-width="2.7" stroke-dasharray="1.5 1.37"/>
<text x="641.70" y="570.80" font-size="34.92" fill="#fff" stroke="#fff" stroke-width="0.2" ><tspan textLength="33.04" lengthAdjust="spacingAndGlyphs">-17</tspan><tspan textLength="15.56" lengthAdjust="spacingAndGlyphs">%</tspan></text>
<path d="M635.3,587 L664.8,575.8 L694.8,587 L664.8,597.2Z" fill="#fff"/>
<path d="M647.3,593.2 L664.8,599.2 L683.5,593.2 L683.5,601.2 Q674,602 664.8,606.4 Q656,602 647.3,601.2Z" fill="#fff"/>
<line x1="686.60" y1="588.00" x2="686.60" y2="606.00" stroke="#fff" stroke-width="1.0" />
<path d="M685.4,604.5 L687.8,604.5 L688.6,620 L684.6,620Z" fill="#e6e6e6"/>
<rect x="747.00" y="643.30" width="21.80" height="18.00" fill="#fff" />
<rect x="775.50" y="630.00" width="21.50" height="31.30" fill="#fff" />
<rect x="805.00" y="603.80" width="21.50" height="57.50" fill="#fff" />
<rect x="834.30" y="570.30" width="21.50" height="91.00" fill="#fff" />
<g fill="#fff"><circle cx="864.50" cy="570.00" r="2.1"/><circle cx="864.50" cy="581.25" r="2.1"/><circle cx="864.50" cy="592.50" r="2.1"/><circle cx="864.50" cy="603.75" r="2.1"/><circle cx="864.50" cy="615.00" r="2.1"/><circle cx="864.50" cy="626.25" r="2.1"/><circle cx="864.50" cy="637.50" r="2.1"/><circle cx="864.50" cy="648.75" r="2.1"/><circle cx="864.50" cy="660.00" r="2.1"/><circle cx="864.50" cy="671.25" r="2.1"/><circle cx="740.80" cy="671.30" r="2.1"/><circle cx="752.05" cy="671.30" r="2.1"/><circle cx="763.30" cy="671.30" r="2.1"/><circle cx="774.55" cy="671.30" r="2.1"/><circle cx="785.80" cy="671.30" r="2.1"/><circle cx="797.05" cy="671.30" r="2.1"/><circle cx="808.30" cy="671.30" r="2.1"/><circle cx="819.55" cy="671.30" r="2.1"/><circle cx="830.80" cy="671.30" r="2.1"/><circle cx="842.05" cy="671.30" r="2.1"/><circle cx="853.30" cy="671.30" r="2.1"/></g>
<text x="768.30" y="595.30" font-size="9.5" fill="#ee3424" textLength="27.70" lengthAdjust="spacing">Usage</text>
<text x="770.45" y="618.30" font-size="22.77" fill="#ee3424" stroke="#ee3424" stroke-width="0.18" ><tspan textLength="16.20" lengthAdjust="spacingAndGlyphs">85</tspan><tspan textLength="9.91" lengthAdjust="spacingAndGlyphs">%</tspan></text>
<line x1="723.80" y1="583.80" x2="766.30" y2="607.50" stroke="#ee3424" stroke-width="2.2" />
<line x1="747.20" y1="610.80" x2="747.20" y2="643.30" stroke="#4a0f0a" stroke-width="0.7" />
<!-- right -->
<text y="53.70" font-size="12.0" fill="#efefef" ><tspan x="914.40" textLength="83.20" lengthAdjust="spacingAndGlyphs">TECHNOLOGY</tspan></text>
<text y="67.70" font-size="12.0" fill="#efefef" ><tspan x="922.60" textLength="66.80" lengthAdjust="spacingAndGlyphs">PUBLISHERS</tspan></text>
<text y="81.60" font-size="12.0" fill="#efefef" ><tspan x="926.00" textLength="20.60" lengthAdjust="spacingAndGlyphs">ARE</tspan> <tspan x="951.80" textLength="33.60" lengthAdjust="spacingAndGlyphs">MOST</tspan></text>
<text y="95.30" font-size="12.0" fill="#efefef" ><tspan x="911.50" textLength="50.70" lengthAdjust="spacingAndGlyphs">FAMILIAR</tspan> <tspan x="967.40" textLength="32.80" lengthAdjust="spacingAndGlyphs">WITH:</tspan></text>
<circle cx="955.80" cy="173.10" r="42.30" fill="#000" stroke="#fff" stroke-width="1.8" />
<path d="M957.81,211.55 A38.5,38.5 0 1,1 975.05,206.44" fill="none" stroke="#ee3424" stroke-width="2.4" stroke-linecap="butt"/>
<text x="925.80" y="169.70" font-size="10.4" fill="#f2f2f2" textLength="58.60" lengthAdjust="spacing">Ad Serving</text>
<text x="944.80" y="191.40" font-size="22.63" fill="#fff" stroke="#fff" stroke-width="0.18" ><tspan textLength="16.13" lengthAdjust="spacingAndGlyphs">92</tspan><tspan textLength="9.87" lengthAdjust="spacingAndGlyphs">%</tspan></text>
<circle cx="953.90" cy="288.60" r="42.30" fill="#000" stroke="#fff" stroke-width="1.8" />
<path d="M955.91,327.05 A38.5,38.5 0 1,1 982.51,314.36" fill="none" stroke="#ee3424" stroke-width="2.4" stroke-linecap="butt"/>
<text x="924.50" y="283.70" font-size="10.4" fill="#f2f2f2" textLength="61.50" lengthAdjust="spacing">Retargeting</text>
<text x="942.90" y="308.90" font-size="22.63" fill="#fff" stroke="#fff" stroke-width="0.18" ><tspan textLength="16.13" lengthAdjust="spacingAndGlyphs">87</tspan><tspan textLength="9.87" lengthAdjust="spacingAndGlyphs">%</tspan></text>
<circle cx="955.80" cy="404.40" r="42.30" fill="#000" stroke="#fff" stroke-width="1.8" />
<path d="M957.81,442.85 A38.5,38.5 0 1,1 984.41,430.16" fill="none" stroke="#ee3424" stroke-width="2.4" stroke-linecap="butt"/>
<text x="948.00" y="383.50" font-size="10.4" fill="#f2f2f2" textLength="13.80" lengthAdjust="spacing">Ad</text>
<text x="926.10" y="394.40" font-size="10.4" fill="#f2f2f2" textLength="58.30" lengthAdjust="spacing">Viewability</text>
<text x="933.00" y="404.80" font-size="10.4" fill="#f2f2f2" textLength="44.30" lengthAdjust="spacing">Tracking</text>
<text x="944.80" y="428.80" font-size="22.63" fill="#fff" stroke="#fff" stroke-width="0.18" ><tspan textLength="16.13" lengthAdjust="spacingAndGlyphs">87</tspan><tspan textLength="9.87" lengthAdjust="spacingAndGlyphs">%</tspan></text>
<circle cx="955.50" cy="520.10" r="42.30" fill="#000" stroke="#fff" stroke-width="1.8" />
<path d="M957.51,558.55 A38.5,38.5 0 1,1 984.99,544.85" fill="none" stroke="#ee3424" stroke-width="2.4" stroke-linecap="butt"/>
<text x="944.40" y="504.50" font-size="10.4" fill="#f2f2f2" textLength="21.90" lengthAdjust="spacing">Web</text>
<text x="931.00" y="516.30" font-size="10.4" fill="#f2f2f2" textLength="48.20" lengthAdjust="spacing">Analytics</text>
<text x="944.50" y="539.60" font-size="22.63" fill="#fff" stroke="#fff" stroke-width="0.18" ><tspan textLength="16.13" lengthAdjust="spacingAndGlyphs">84</tspan><tspan textLength="9.87" lengthAdjust="spacingAndGlyphs">%</tspan></text>
<circle cx="955.50" cy="635.90" r="42.30" fill="#000" stroke="#fff" stroke-width="1.8" />
<path d="M957.51,674.35 A38.5,38.5 0 1,1 990.39,652.17" fill="none" stroke="#ee3424" stroke-width="2.4" stroke-linecap="butt"/>
<text x="943.20" y="626.80" font-size="10.4" fill="#f2f2f2" textLength="24.40" lengthAdjust="spacing">CRM</text>
<text x="944.50" y="650.50" font-size="22.63" fill="#fff" stroke="#fff" stroke-width="0.18" ><tspan textLength="16.13" lengthAdjust="spacingAndGlyphs">79</tspan><tspan textLength="9.87" lengthAdjust="spacingAndGlyphs">%</tspan></text>
</svg>
</body>
</html>
